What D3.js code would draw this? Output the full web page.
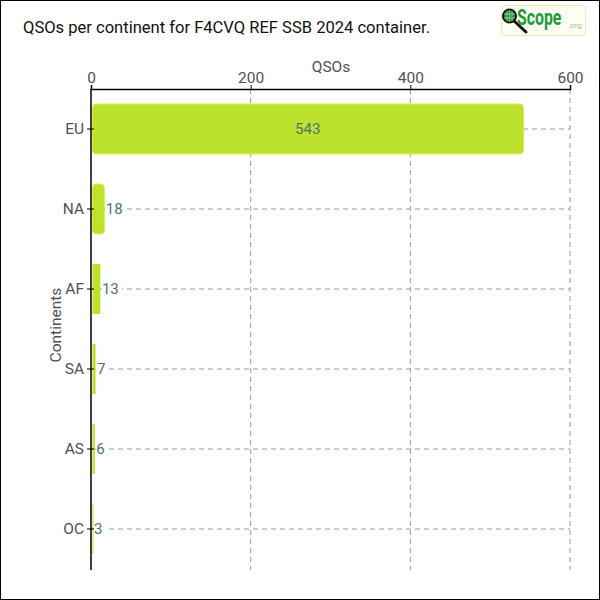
<!DOCTYPE html>
<html><head><meta charset="utf-8">
<script src="https://cdn.jsdelivr.net/npm/d3@7"></script>
<style>
body{margin:0;background:#fff;}
svg{display:block;}
text{font-family:"Roboto","Lato",sans-serif;}
</style></head>
<body><svg id="c" width="600" height="600"></svg>
<script>
const categories = ["EU","NA","AF","SA","AS","OC"];
const values = [543,18,13,7,6,3];
const xTicks = [0,200,400,600];
const titleText = "QSOs per continent for F4CVQ REF SSB 2024 container.";
const xTitle = "QSOs";
const yTitle = "Continents";

const svg = d3.select("#c");
svg.append("rect").attr("x",0.5).attr("y",0.5).attr("width",599).attr("height",599)
  .attr("fill","#fff").attr("stroke","#000");

const m = {l:91, r:570, t:89, b:569};
const x = d3.scaleLinear().domain([0,600]).range([m.l,m.r]);
const y = d3.scaleBand().domain(categories).range([m.t,m.b]).paddingInner(0.375).paddingOuter(0.1875);
const lightFont = "'Roboto',sans-serif";
const axisColor = "#505050";

// title
svg.append("text").attr("x",23).attr("y",33).text(titleText)
  .attr("font-family","'DejaVu Sans Condensed','DejaVu Sans',sans-serif")
  .attr("font-size",17).attr("fill","#111").attr("textLength",407).attr("lengthAdjust","spacingAndGlyphs");

// logo
const lg = svg.append("g");
lg.append("rect").attr("x",501.5).attr("y",5.5).attr("width",84).attr("height",30).attr("rx",4)
  .attr("fill","#fdfdf0").attr("stroke","#e6ecc4");
lg.append("line").attr("x1",513).attr("y1",20).attr("x2",526).attr("y2",32).attr("stroke","#111").attr("stroke-width",3).attr("stroke-linecap","round");
lg.append("circle").attr("cx",509.5).attr("cy",16).attr("r",6.5).attr("fill","#1e8a3c").attr("stroke","#111").attr("stroke-width",2);
lg.append("path").attr("d","M507,10.5V21.5M509.5,10V22M512,10.5V21.5M504,14H515M504,18H515").attr("stroke","#9bd89b").attr("stroke-width",0.8);
lg.append("text").attr("transform","translate(517,25) scale(0.72,1)").text("Scope")
  .attr("font-family","'DejaVu Sans Condensed',sans-serif")
  .attr("font-weight","bold").attr("font-size",22).attr("fill","#1a9a3c");
lg.append("text").attr("x",568).attr("y",28).text(".org").attr("font-size",8).attr("fill","#9cc79c").attr("font-family",lightFont);

// grid
const g = svg.append("g");
g.selectAll("line.v").data(xTicks.slice(1)).join("line")
  .attr("x1",d=>x(d)).attr("x2",d=>x(d)).attr("y1",m.t).attr("y2",m.b+1)
  .attr("stroke","#999").attr("stroke-dasharray","5,4");
g.selectAll("line.h").data(categories).join("line")
  .attr("x1",m.l).attr("x2",m.r).attr("y1",d=>y(d)+y.bandwidth()/2).attr("y2",d=>y(d)+y.bandwidth()/2)
  .attr("stroke","#999").attr("stroke-dasharray","5,4");

// bars
const data = categories.map((c,i)=>({c, v:values[i]}));
const bw = d => Math.max(1, x(d.v)-x(0)-2.5);
svg.selectAll("rect.bar").data(data).join("rect")
  .attr("x",x(0)+1.5)
  .attr("y",d=>y(d.c))
  .attr("width",bw)
  .attr("height",y.bandwidth())
  .attr("rx",d=>bw(d)>8?4:0)
  .attr("fill","#bde22e").attr("stroke",d=>bw(d)>8?"#d6f048":"none").attr("stroke-width",1);

// labels
const lab = svg.append("g");
data.forEach(d=>{
  const w = x(d.v)-x(0);
  const inside = w > 60;
  const tx = inside ? (x(0)+x(d.v))/2 : x(d.v)+0.5;
  const ty = y(d.c)+y.bandwidth()/2;
  const t = lab.append("text").attr("x",tx).attr("y",ty).attr("dy","0.35em")
    .attr("text-anchor",inside?"middle":"start").attr("font-size",15)
    .attr("font-family",lightFont).attr("fill","#4d7373").text(d.v);
  if(!inside){
    const bb = t.node().getBBox();
    lab.insert("rect","text").attr("x",bb.x).attr("y",ty-3).attr("width",bb.width+3).attr("height",6).attr("fill","#fff");
  }
});

// axes
const xa = svg.append("g").attr("transform",`translate(0,${m.t})`)
  .call(d3.axisTop(x).tickValues(xTicks).tickSize(4).tickPadding(2));
const ya = svg.append("g").attr("transform",`translate(${m.l},0)`)
  .call(d3.axisLeft(y).tickSize(4).tickPadding(3));
ya.select(".domain").attr("d",`M0,${m.t}V${m.b+1}`);
ya.selectAll(".tick line").attr("x1",3);
[xa,ya].forEach(a=>{
  a.select(".domain").attr("stroke","#000").attr("stroke-width",1.5);
  a.selectAll(".tick line").attr("stroke","#000");
  a.selectAll(".tick text").attr("font-size",15.5).attr("fill",axisColor)
   .attr("font-family",lightFont);
});
svg.append("text").attr("x",331).attr("y",72).attr("text-anchor","middle").text(xTitle)
  .attr("font-size",15.5).attr("fill",axisColor).attr("font-family",lightFont);
svg.append("text").attr("transform","translate(61,325) rotate(-90)").attr("text-anchor","middle").text(yTitle)
  .attr("font-size",15.5).attr("fill",axisColor).attr("font-family",lightFont);
</script></body></html>
